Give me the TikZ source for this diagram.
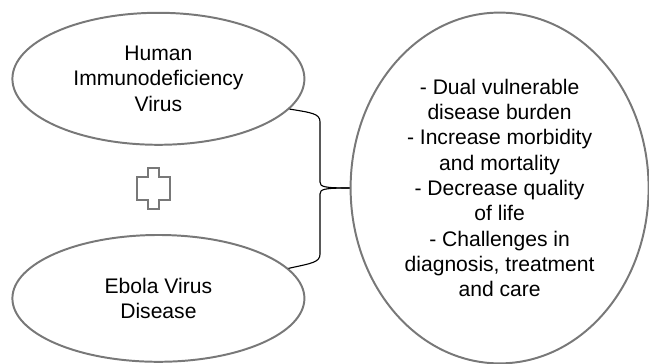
\documentclass[tikz,border=0pt]{standalone}
\usepackage{fontspec}
\setmainfont{Liberation Sans}
\usetikzlibrary{shapes.geometric}
\definecolor{outlinegray}{rgb}{0.47,0.47,0.47}

\begin{document}
\begin{tikzpicture}[
  oval/.style={ellipse,draw=outlinegray,line width=1.4pt,inner sep=0pt,
    align=center,font=\fontsize{15}{18}\selectfont},
  bracket/.style={draw=black,line width=0.8pt}
]
\useasboundingbox (0,0) rectangle (16.225,9.1);

%% ellipses
% left side
\node [oval,minimum width=7.3cm,minimum height=3.3cm] (hiv) at (3.96,7.13)
  {Human\\Immunodeficiency\\Virus};
\node [oval,minimum width=7.3cm,minimum height=3.17cm] (evd) at (3.96,1.64)
  {Ebola Virus\\Disease};
% right side
\node [oval,minimum width=7.45cm,minimum height=8.77cm] (impact) at (12.49,4.4)
  {- Dual vulnerable\\disease burden\\- Increase morbidity\\and mortality\\
   - Decrease quality\\of life\\- Challenges in\\diagnosis, treatment\\and care};

%% plus sign
\draw [outlinegray,line width=1.2pt] (3.7,4.9) -- (3.975,4.9) -- (3.975,4.675)
  -- (4.25,4.675) -- (4.25,4.1) -- (3.975,4.1) -- (3.975,3.875) -- (3.7,3.875)
  -- (3.7,4.1) -- (3.425,4.1) -- (3.425,4.675) -- (3.7,4.675) -- cycle;

%% brace
\draw [bracket] (hiv.-13.5) .. controls (7.8,6.28) and (8.0,6.26) .. (8.0,6.05)
  -- (8.0,4.55) .. controls (8.0,4.43) and (8.1,4.4) .. (impact.west);
\draw [bracket] (evd.13.5) .. controls (7.8,2.52) and (8.0,2.54) .. (8.0,2.75)
  -- (8.0,4.25) .. controls (8.0,4.37) and (8.1,4.4) .. (impact.west);

\end{tikzpicture}
\end{document}
